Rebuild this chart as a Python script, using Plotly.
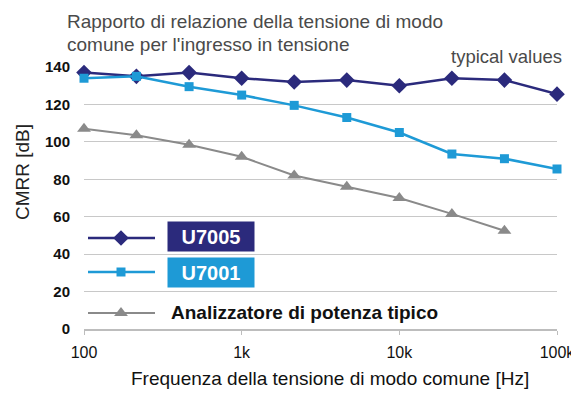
import plotly.graph_objects as go

# Data
freqs = [100, 215, 464, 1000, 2154, 4642, 10000, 21544, 46416, 100000]
u7005 = [137, 135, 137, 134, 132, 133, 130, 134, 133, 125.5]
u7001 = [134, 135, 129.5, 125, 119.5, 113, 105, 93.5, 91, 85.5]
analyzer_freqs = [100, 215, 464, 1000, 2154, 4642, 10000, 21544, 46416]
analyzer = [107, 103.5, 98.5, 92, 82, 76, 70, 61.5, 52.5]
y_ticks = [0, 20, 40, 60, 80, 100, 120, 140]
x_ticks = [100, 1000, 10000, 100000]
x_tick_labels = ["100", "1k", "10k", "100k"]
title_lines = ["Rapporto di relazione della tensione di modo", "comune per l'ingresso in tensione"]

NAVY = "#2b2a7c"
BLUE = "#1e9ad6"
GRAY = "#8a8a8a"
FONT = "Liberation Sans, Arial, sans-serif"

# page has an 8px body margin; plot area wanted in page pixels
OFF = 8
L, R, T, B = 84, 557, 67, 329
PW, PH = 579, 399
W, H = PW - OFF, PH - OFF


def fx(px):
    return (px - L) / (R - L)


def fy(py):
    return (B - py) / (B - T)


fig = go.Figure()
fig.add_trace(go.Scatter(x=freqs, y=u7005, mode="lines+markers",
                         line=dict(color=NAVY, width=2.5),
                         marker=dict(symbol="diamond", size=12, color=NAVY),
                         cliponaxis=False, showlegend=False))
fig.add_trace(go.Scatter(x=freqs, y=u7001, mode="lines+markers",
                         line=dict(color=BLUE, width=2.5),
                         marker=dict(symbol="square", size=9, color=BLUE),
                         cliponaxis=False, showlegend=False))
fig.add_trace(go.Scatter(x=analyzer_freqs, y=analyzer, mode="lines+markers",
                         line=dict(color=GRAY, width=2),
                         marker=dict(symbol="triangle-up", size=12, color=GRAY),
                         cliponaxis=False, showlegend=False))

# Legend samples on an overlay axis (0..1 spans the plot area)
leg = [(238, NAVY, "diamond", 12, 2.5), (272, BLUE, "square", 9, 2.5), (313, GRAY, "triangle-up", 12, 2)]
for py, col, sym, sz, lw in leg:
    fig.add_trace(go.Scatter(x=[fx(88), fx(155)], y=[fy(py), fy(py)], mode="lines",
                             line=dict(color=col, width=lw), xaxis="x2", yaxis="y2",
                             cliponaxis=False, showlegend=False, hoverinfo="skip"))
    fig.add_trace(go.Scatter(x=[fx(121)], y=[fy(py)], mode="markers",
                             marker=dict(symbol=sym, size=sz, color=col), xaxis="x2", yaxis="y2",
                             cliponaxis=False, showlegend=False, hoverinfo="skip"))

annotations = [
    dict(text="U7005", x=fx(211), y=fy(236.5), xref="paper", yref="paper", showarrow=False,
         xanchor="center", yanchor="middle",
         width=84, height=27, bgcolor=NAVY, borderpad=1,
         font=dict(family=FONT, size=20, color="white", weight="bold")),
    dict(text="U7001", x=fx(211), y=fy(272.5), xref="paper", yref="paper", showarrow=False,
         xanchor="center", yanchor="middle",
         width=84, height=27, bgcolor=BLUE, borderpad=1,
         font=dict(family=FONT, size=20, color="white", weight="bold")),
    dict(text="Analizzatore di potenza tipico", x=fx(169), y=fy(312), xref="paper", yref="paper",
         xanchor="left", yanchor="middle", showarrow=False,
         font=dict(family=FONT, size=19, color="#111", weight="bold")),
    dict(text=title_lines[0], x=fx(66), y=fy(21), xref="paper", yref="paper",
         xanchor="left", yanchor="middle", showarrow=False, borderpad=0,
         font=dict(family=FONT, size=19, color="#4a4a4a")),
    dict(text=title_lines[1], x=fx(66), y=fy(45), xref="paper", yref="paper",
         xanchor="left", yanchor="middle", showarrow=False, borderpad=0,
         font=dict(family=FONT, size=19, color="#4a4a4a")),
    dict(text="typical values", x=fx(564), y=fy(56), xref="paper", yref="paper",
         xanchor="right", yanchor="middle", showarrow=False,
         font=dict(family=FONT, size=18.5, color="#4a4a4a")),
    dict(text="CMRR [dB]", x=fx(22), y=fy(172), xref="paper", yref="paper", textangle=-90,
         xanchor="center", yanchor="middle",
         showarrow=False, font=dict(family=FONT, size=19, color="#222")),
    dict(text="Frequenza della tensione di modo comune [Hz]", x=fx(330), y=fy(378),
         xref="paper", yref="paper", showarrow=False, xanchor="center", yanchor="middle",
         font=dict(family=FONT, size=19, color="#111")),
]

fig.update_layout(
    width=W, height=H,
    margin=dict(l=L - OFF, r=W - (R - OFF), t=T - OFF, b=H - (B - OFF), autoexpand=False),
    paper_bgcolor="white", plot_bgcolor="white",
    font=dict(family=FONT),
    xaxis=dict(type="log", range=[2, 5], tickvals=x_ticks, ticktext=x_tick_labels,
               showgrid=False, zeroline=False, showline=True, linecolor="#bdbdbd", linewidth=1.5,
               ticks="outside", ticklen=4, tickcolor="#bdbdbd", automargin=False,
               tickfont=dict(family=FONT, size=16, color="#111"), ticklabelstandoff=4),
    yaxis=dict(range=[0, 140], tickvals=y_ticks, showgrid=True, gridcolor="#c8c8c8", gridwidth=1,
               zeroline=False, showline=False, ticks="", automargin=False,
               tickfont=dict(family=FONT, size=15, color="#111", weight="bold"),
               ticklabelstandoff=13),
    xaxis2=dict(range=[0, 1], overlaying="x", visible=False, fixedrange=True),
    yaxis2=dict(range=[0, 1], overlaying="y", visible=False, fixedrange=True),
    annotations=annotations,
)

fig.write_html("out.html")
